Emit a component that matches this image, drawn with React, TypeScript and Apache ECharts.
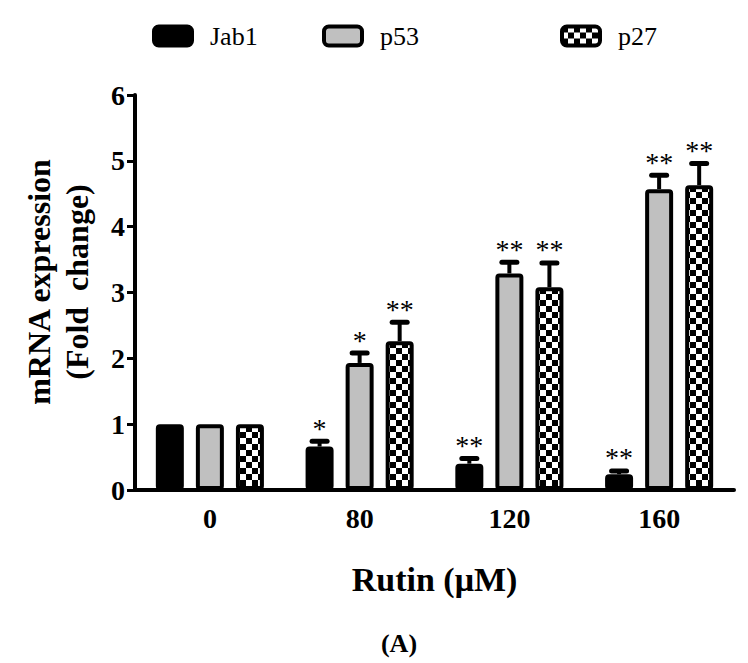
import React, { useEffect, useRef } from "react";
import * as echarts from "echarts";

const categories = ["0", "80", "120", "160"];
const seriesNames = ["Jab1", "p53", "p27"];
const jab1Values = [1.0, 0.66, 0.4, 0.24];
const p53Values = [1.0, 1.93, 3.29, 4.57];
const p27Values = [1.0, 2.26, 3.08, 4.63];
const jab1Errors = [0, 0.08, 0.08, 0.05];
const p53Errors = [0, 0.15, 0.17, 0.21];
const p27Errors = [0, 0.29, 0.37, 0.33];
const jab1Stars = ["", "*", "**", "**"];
const p53Stars = ["", "*", "**", "**"];
const p27Stars = ["", "**", "**", "**"];
const yTicks = [0, 1, 2, 3, 4, 5, 6];

const FONT = "'Liberation Serif', 'Times New Roman', serif";
const BAR_WIDTH = 28;
const BAR_GAP = 0.43;

export default function App() {
  const ref = useRef<HTMLDivElement>(null);
  useEffect(() => {
    if (!ref.current) return;
    const canvas = document.createElement("canvas");
    canvas.width = 12;
    canvas.height = 12;
    const ctx = canvas.getContext("2d")!;
    ctx.fillStyle = "#ffffff";
    ctx.fillRect(0, 0, 12, 12);
    ctx.fillStyle = "#000000";
    ctx.fillRect(0, 0, 6, 6);
    ctx.fillRect(6, 6, 6, 6);
    const checker: any = { image: canvas, repeat: "repeat" };

    const chart = echarts.init(ref.current, null, { renderer: "svg" });
    const values = [jab1Values, p53Values, p27Values];
    const errors = [jab1Errors, p53Errors, p27Errors];
    const stars = [jab1Stars, p53Stars, p27Stars];
    const fills = ["#000000", "#c0c0c0", checker];
    const step = BAR_WIDTH * (1 + BAR_GAP);

    const barSeries = seriesNames.map((name, i) => ({
      name,
      type: "bar",
      data: values[i],
      barWidth: BAR_WIDTH,
      barGap: BAR_GAP * 100 + "%",
      itemStyle: {
        color: fills[i],
        borderColor: "#000",
        borderWidth: 4,
        borderRadius: 2,
      },
      z: 2,
    }));

    const errSeries = seriesNames.map((name, i) => ({
      name: name + " err",
      type: "custom",
      data: categories.map((_, j) => [j, values[i][j], errors[i][j]]),
      encode: { x: 0, y: 1 },
      z: 5,
      silent: true,
      renderItem: (params: any, api: any) => {
        const cat = api.value(0);
        const mean = api.value(1);
        const err = api.value(2);
        const base = api.coord([cat, mean]);
        const top = api.coord([cat, mean + err]);
        const x = base[0] + (i - 1) * step;
        const children: any[] = [];
        if (err > 0) {
          children.push({
            type: "line",
            shape: { x1: x, y1: base[1], x2: x, y2: top[1] },
            style: { stroke: "#000", lineWidth: 4 },
          });
          children.push({
            type: "line",
            shape: { x1: x - 7.5, y1: top[1], x2: x + 7.5, y2: top[1] },
            style: { stroke: "#000", lineWidth: 5, lineCap: "round" },
          });
        }
        const s = stars[i][params.dataIndex];
        if (s) {
          children.push({
            type: "text",
            style: {
              text: s,
              x,
              y: top[1] + 1,
              align: "center",
              verticalAlign: "bottom",
              fontFamily: FONT,
              fontSize: 28,
              fill: "#000",
            },
          });
        }
        return { type: "group", children };
      },
    }));

    const legendBase = {
      orient: "horizontal",
      top: 23,
      padding: 0,
      itemWidth: 38,
      itemHeight: 19,
      itemStyle: { borderWidth: 4, borderColor: "#000" },
      textStyle: {
        fontFamily: FONT,
        fontSize: 26,
        color: "#000",
        padding: [0, 0, 0, 13],
      },
    };

    chart.setOption({
      animation: false,
      backgroundColor: "#ffffff",
      legend: [
        { ...legendBase, left: 152, data: [seriesNames[0]] },
        { ...legendBase, left: 322, data: [seriesNames[1]] },
        { ...legendBase, left: 560, data: [seriesNames[2]] },
      ],
      grid: { left: 135, right: 14, top: 95, bottom: 173 },
      xAxis: {
        type: "category",
        data: categories,
        axisLine: { lineStyle: { color: "#000", width: 4 } },
        axisTick: { alignWithLabel: true, length: 8, lineStyle: { width: 3, color: "#000" } },
        axisLabel: {
          fontFamily: FONT,
          fontWeight: "bold",
          fontSize: 28,
          color: "#000",
          margin: 14,
        },
        name: "Rutin (μM)",
        nameLocation: "middle",
        nameGap: 72,
        nameTextStyle: {
          fontFamily: FONT,
          fontWeight: "bold",
          fontSize: 34,
          color: "#000",
        },
      },
      yAxis: {
        type: "value",
        min: yTicks[0],
        max: yTicks[yTicks.length - 1],
        interval: 1,
        axisLine: { show: true, lineStyle: { color: "#000", width: 4 } },
        axisTick: { show: true, length: 8, lineStyle: { width: 3, color: "#000" } },
        splitLine: { show: false },
        axisLabel: {
          fontFamily: FONT,
          fontWeight: "bold",
          fontSize: 28,
          color: "#000",
          margin: 10,
        },
      },
      graphic: [
        {
          type: "text",
          x: 58,
          y: 282,
          rotation: Math.PI / 2,
          style: {
            text: "mRNA expression\n(Fold  change)",
            align: "center",
            verticalAlign: "middle",
            fontFamily: FONT,
            fontWeight: "bold",
            fontSize: 32,
            lineHeight: 38,
            fill: "#000",
          },
        },
        {
          type: "text",
          x: 399,
          y: 643,
          style: {
            text: "(A)",
            align: "center",
            verticalAlign: "middle",
            fontFamily: FONT,
            fontWeight: "bold",
            fontSize: 26,
            fill: "#000",
          },
        },
      ],
      series: [...barSeries, ...errSeries],
    });
    return () => chart.dispose();
  }, []);
  return (
    <div
      ref={ref}
      style={{ position: "fixed", left: 0, top: 0, width: 748, height: 663 }}
    />
  );
}
